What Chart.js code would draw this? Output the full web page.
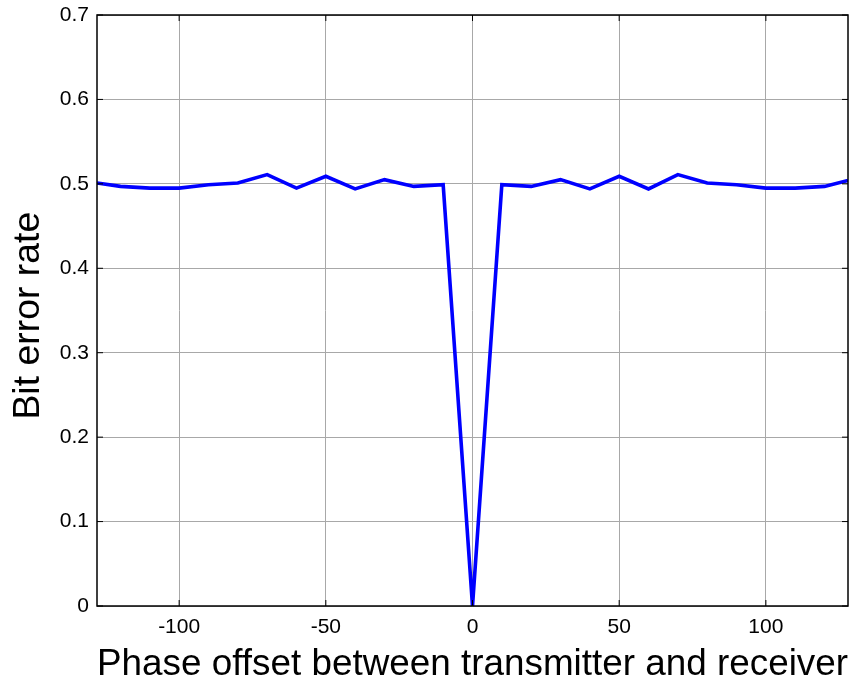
<!DOCTYPE html>
<html>
<head>
<meta charset="utf-8">
<script src="https://cdn.jsdelivr.net/npm/chart.js@4"></script>
<style>
  html, body { margin: 0; padding: 0; background: #fff; }
  #wrap { width: 854px; height: 679px; }
</style>
</head>
<body>
<div id="wrap"><canvas id="berChart"></canvas></div>
<script>
const phaseOffset = [-128, -120, -110, -100, -90, -80, -70, -60, -50, -40, -30, -20, -10, 0,
  10, 20, 30, 40, 50, 60, 70, 80, 90, 100, 110, 120, 128];
const bitErrorRate = [0.501, 0.497, 0.495, 0.495, 0.499, 0.501, 0.511, 0.495, 0.509, 0.494, 0.505, 0.497, 0.499, 0.0,
  0.499, 0.497, 0.505, 0.494, 0.509, 0.494, 0.511, 0.501, 0.499, 0.495, 0.495, 0.497, 0.504];
const xTicks = [-100, -50, 0, 50, 100];
const yTicks = [0, 0.1, 0.2, 0.3, 0.4, 0.5, 0.6, 0.7];

const font = "'Liberation Sans', Arial, sans-serif";

// black box round the plot plus small inward ticks, like matlab
const frame = {
  id: "frame",
  afterDraw(chart) {
    const { ctx, chartArea: a, scales } = chart;
    ctx.save();
    ctx.strokeStyle = "#000";
    ctx.lineWidth = 1.5;
    ctx.strokeRect(a.left, a.top, a.right - a.left, a.bottom - a.top);
    ctx.lineWidth = 1;
    for (const v of xTicks) {
      const x = scales.x.getPixelForValue(v);
      ctx.beginPath();
      ctx.moveTo(x, a.bottom); ctx.lineTo(x, a.bottom - 6);
      ctx.moveTo(x, a.top); ctx.lineTo(x, a.top + 6);
      ctx.stroke();
    }
    for (const v of yTicks) {
      const y = scales.y.getPixelForValue(v);
      ctx.beginPath();
      ctx.moveTo(a.left, y); ctx.lineTo(a.left + 6, y);
      ctx.moveTo(a.right, y); ctx.lineTo(a.right - 6, y);
      ctx.stroke();
    }
    ctx.restore();
  }
};

new Chart(document.getElementById("berChart"), {
  type: "line",
  data: {
    datasets: [{
      data: phaseOffset.map((x, i) => ({ x, y: bitErrorRate[i] })),
      borderColor: "#0000ff",
      borderWidth: 3.6,
      pointRadius: 0,
      tension: 0,
      fill: false,
    }],
  },
  options: {
    responsive: true,
    maintainAspectRatio: false,
    animation: false,
    layout: { padding: { left: 0, right: 6, top: 15, bottom: 0 } },
    plugins: { legend: { display: false }, tooltip: { enabled: false } },
    scales: {
      x: {
        type: "linear",
        min: -128,
        max: 128,
        afterBuildTicks: s => { s.ticks = xTicks.map(v => ({ value: v })); },
        afterFit: s => { s.height = 73; },
        grid: { color: "#a8a8a8", lineWidth: 1, drawTicks: false },
        border: { display: false },
        ticks: { color: "#000", padding: 9, maxRotation: 0, font: { family: font, size: 21 } },
        title: {
          display: true,
          text: "Phase offset between transmitter and receiver",
          color: "#000",
          padding: { top: 0, bottom: -1 },
          font: { family: font, size: 37.4, lineHeight: 0.8 },
        },
      },
      y: {
        min: 0,
        max: 0.7,
        afterBuildTicks: s => { s.ticks = yTicks.map(v => ({ value: v })); },
        afterFit: s => { s.width = 97; },
        grid: { color: "#a8a8a8", lineWidth: 1, drawTicks: false },
        border: { display: false },
        ticks: {
          color: "#000",
          padding: 8,
          font: { family: font, size: 21, lineHeight: 0.65 },
          callback: v => String(Math.round(v * 10) / 10),
        },
        title: {
          display: true,
          text: "Bit error rate ",
          color: "#000",
          padding: { top: 14, bottom: 0 },
          font: { family: font, size: 37.4, lineHeight: 0.8 },
        },
      },
    },
  },
  plugins: [frame],
});
</script>
</body>
</html>
